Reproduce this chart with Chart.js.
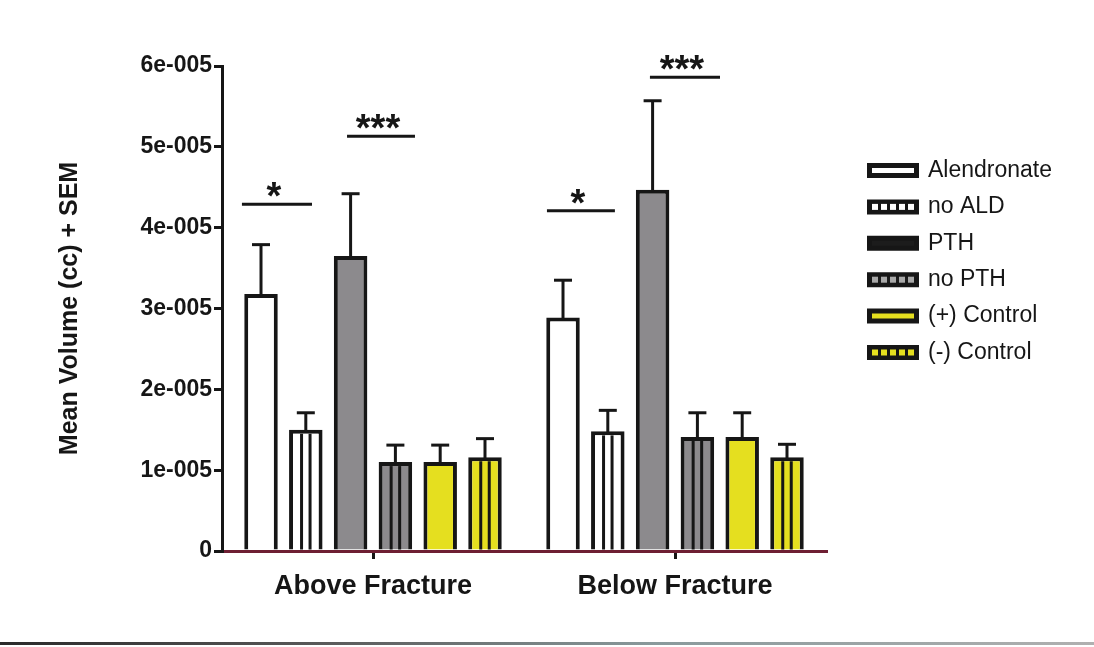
<!DOCTYPE html>
<html><head><meta charset="utf-8">
<script src="https://cdn.jsdelivr.net/npm/chart.js@4"></script>
<style>
html,body{margin:0;padding:0;background:#fff;}
#wrap{position:relative;width:1094px;height:647px;}
#rule{position:absolute;left:0;top:642px;width:1094px;height:3px;background:linear-gradient(90deg,#2a2a2a 0%,#5a5a5a 30%,#8a9a9c 60%,#b0b0b0 100%);}
</style></head><body>
<div id="wrap"><canvas id="c"></canvas><div id="rule"></div></div>
<script>
const categories = ['Above Fracture', 'Below Fracture'];
const seriesNames = ['Alendronate', 'no ALD', 'PTH', 'no PTH', '(+) Control', '(-) Control'];
const alendronate = [3.18e-5, 2.89e-5];
const noALD       = [1.50e-5, 1.48e-5];
const pth         = [3.65e-5, 4.47e-5];
const noPTH       = [1.10e-5, 1.41e-5];
const posControl  = [1.10e-5, 1.41e-5];
const negControl  = [1.16e-5, 1.16e-5];
const alendronateSem = [0.61e-5, 0.46e-5];
const noALDSem       = [0.21e-5, 0.26e-5];
const pthSem         = [0.77e-5, 1.10e-5];
const noPTHSem       = [0.21e-5, 0.30e-5];
const posControlSem  = [0.21e-5, 0.30e-5];
const negControlSem  = [0.23e-5, 0.16e-5];
const yTickLabels = ['0', '1e-005', '2e-005', '3e-005', '4e-005', '5e-005', '6e-005'];
// significance bars: category, start/end as fraction of category width, level, label
const sigCategory = [0, 0, 1, 1];
const sigFrom = [-0.434, -0.086, -0.424, -0.083];
const sigTo = [-0.202, 0.139, -0.199, 0.149];
const sigLevel = [4.29e-5, 5.13e-5, 4.21e-5, 5.86e-5];
const sigText = ['*', '***', '*', '***'];

const FAMILY = '"Liberation Sans", Arial, Helvetica, sans-serif';
const INK = '#161616';
const means = [alendronate, noALD, pth, noPTH, posControl, negControl];
const sems = [alendronateSem, noALDSem, pthSem, noPTHSem, posControlSem, negControlSem];
const fills = ['#ffffff', '#ffffff', '#8c8a8d', '#8c8a8d', '#e5df1f', '#e5df1f'];
const striped = [false, true, false, true, false, true];
const legendFills = ['#ffffff', '#141414', '#1c1c1c', '#1c1c1c', '#e5df1f', '#141414'];
const legendDots = [null, '#ffffff', null, '#a8a8a8', null, '#e5df1f'];

const BOXW = 47, BOXH = 10, LPAD = 13.4, LFONT = 23;

const decor = {
  id: 'decor',
  beforeLayout(chart) {
    const lg = chart.legend;
    if (lg && !lg._wrapped) {
      const f = lg.fit.bind(lg);
      lg.fit = function () { f(); this.width = 1094 - 826; };
      lg._wrapped = true;
    }
  },
  afterLayout(chart) {
    const lg = chart.legend;
    if (!lg) return;
    lg.left = 856.1; lg.right = lg.left + lg.width;
    lg.top = 145.6; lg.bottom = lg.top + 480;
  },
  afterDatasetsDraw(chart) {
    const ctx = chart.ctx;
    const ys = chart.scales.y, xs = chart.scales.x;
    ctx.save();
    chart.data.datasets.forEach((ds, di) => {
      const meta = chart.getDatasetMeta(di);
      meta.data.forEach((el, i) => {
        const p = el.getProps(['x', 'y', 'base', 'width'], true);
        const bw = 4;
        if (striped[di]) {
          const l = p.x - p.width / 2 + bw, r = p.x + p.width / 2 - bw;
          const iw = r - l;
          ctx.strokeStyle = INK; ctx.lineWidth = 3;
          [1, 2].forEach(k => {
            const xx = l + iw * k / 3;
            ctx.beginPath(); ctx.moveTo(xx, p.y + bw); ctx.lineTo(xx, p.base); ctx.stroke();
          });
        }
        const yTop = ys.getPixelForValue(ds.data[i] + sems[di][i]);
        ctx.strokeStyle = INK; ctx.lineWidth = 3;
        ctx.beginPath(); ctx.moveTo(p.x, p.y + 2); ctx.lineTo(p.x, yTop); ctx.stroke();
        ctx.beginPath(); ctx.moveTo(p.x - 9, yTop); ctx.lineTo(p.x + 9, yTop); ctx.stroke();
      });
    });
    const cw = xs.width / categories.length;
    sigCategory.forEach((c, k) => {
      const cx = xs.getPixelForValue(c);
      const x0 = cx + sigFrom[k] * cw, x1 = cx + sigTo[k] * cw;
      const yy = ys.getPixelForValue(sigLevel[k]);
      ctx.strokeStyle = INK; ctx.lineWidth = 3;
      ctx.beginPath(); ctx.moveTo(x0, yy); ctx.lineTo(x1, yy); ctx.stroke();
      ctx.fillStyle = INK; ctx.font = 'bold 38px ' + FAMILY;
      ctx.textAlign = 'center'; ctx.textBaseline = 'alphabetic';
      ctx.fillText(sigText[k], (x0 + x1) / 2 - 3, yy + 5);
    });
    ctx.restore();
  },
  afterDraw(chart) {
    const lg = chart.legend;
    if (!lg || !lg.legendHitBoxes) return;
    const ctx = chart.ctx;
    ctx.save();
    lg.legendHitBoxes.forEach((hb, i) => {
      const col = legendDots[i];
      if (!col) return;
      const x0 = hb.left, y0 = hb.top + (LFONT - BOXH) / 2;
      ctx.fillStyle = col;
      for (let k = 0; k < 5; k++) {
        const cx = x0 + 1 + (k + 0.5) * (BOXW - 2) / 5;
        ctx.fillRect(cx - 3, y0 + 2, 6, BOXH - 4);
      }
    });
    ctx.restore();
  }
};

new Chart(document.getElementById('c'), {
  type: 'bar',
  data: {
    labels: categories,
    datasets: seriesNames.map((n, i) => ({
      label: n,
      data: means[i],
      backgroundColor: fills[i],
      borderColor: INK,
      borderWidth: 4,
      borderSkipped: 'start',
      categoryPercentage: 0.89,
      barPercentage: 0.748
    }))
  },
  options: {
    responsive: true,
    maintainAspectRatio: false,
    animation: false,
    events: [],
    layout: { padding: { top: 66, left: 0, right: 0, bottom: 0 } },
    scales: {
      x: {
        offset: true,
        grid: { display: true, drawOnChartArea: false, drawTicks: true, tickLength: 8, offset: false, lineWidth: 3, color: INK, tickColor: INK },
        border: { display: true, color: '#6e1f33', width: 3 },
        ticks: { font: { family: FAMILY, size: 27, weight: 'bold' }, color: INK, padding: 11 },
        afterFit(s) { s.height = 96; }
      },
      y: {
        min: 0, max: 6e-5,
        ticks: { stepSize: 1e-5, callback: (v, i) => yTickLabels[i], font: { family: FAMILY, size: 23, weight: 'bold' }, color: INK, padding: 2 },
        grid: { display: true, drawOnChartArea: false, drawTicks: true, tickLength: 8, lineWidth: 3, color: INK, tickColor: INK },
        border: { display: true, color: INK, width: 3 },
        title: { display: true, text: 'Mean Volume (cc) + SEM', font: { family: FAMILY, size: 25, weight: 'bold' }, color: INK, padding: { top: 55, bottom: 0 } },
        afterFit(s) { s.width = 222; }
      }
    },
    plugins: {
      tooltip: { enabled: false },
      legend: {
        position: 'right',
        align: 'start',
        labels: {
          boxWidth: BOXW, boxHeight: BOXH, padding: LPAD, color: INK,
          font: { family: FAMILY, size: LFONT },
          generateLabels() {
            return seriesNames.map((n, i) => ({
              text: n, fillStyle: legendFills[i], strokeStyle: INK, lineWidth: 5,
              hidden: false, datasetIndex: i, fontColor: INK
            }));
          }
        }
      }
    }
  },
  plugins: [decor]
});
</script>
</body></html>
